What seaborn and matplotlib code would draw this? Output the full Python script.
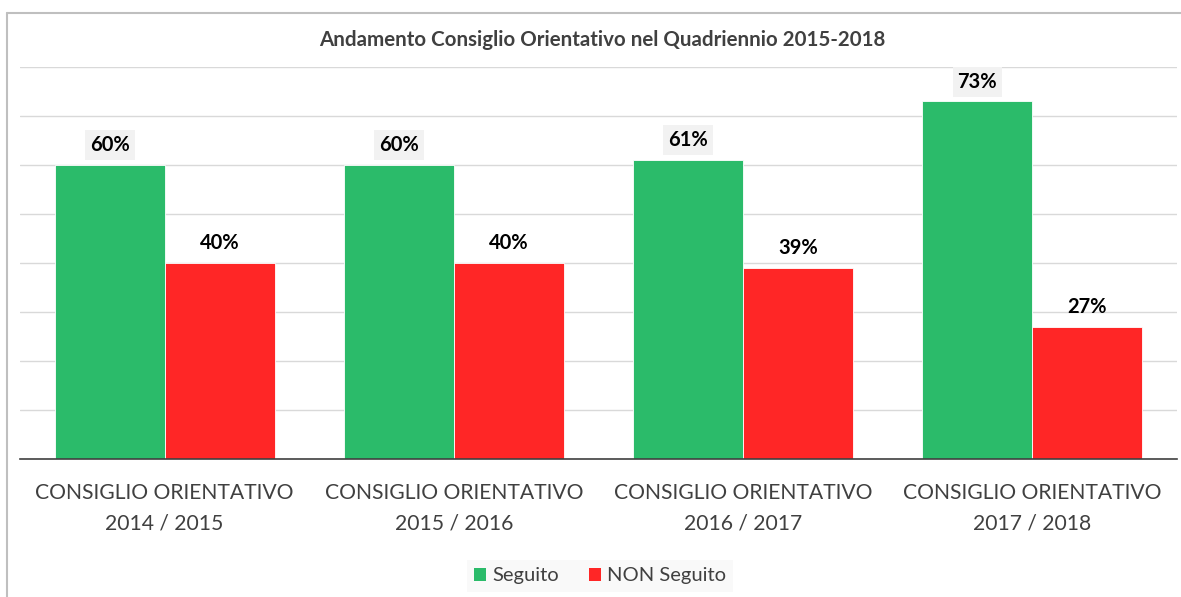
import matplotlib
matplotlib.use("Agg")
import matplotlib.pyplot as plt
import seaborn as sns
import pandas as pd
from matplotlib.lines import Line2D
from matplotlib.patches import Patch

categories = ["CONSIGLIO ORIENTATIVO\n2014 / 2015", "CONSIGLIO ORIENTATIVO\n2015 / 2016",
              "CONSIGLIO ORIENTATIVO\n2016 / 2017", "CONSIGLIO ORIENTATIVO\n2017 / 2018"]
seguito = [60, 60, 61, 73]
non_seguito = [40, 40, 39, 27]
series_names = ["Seguito", "NON Seguito"]
title = "Andamento Consiglio Orientativo nel Quadriennio 2015-2018"

GREEN = "#2BBB6A"
RED = "#FF2626"

sns.set_theme(style="white")
plt.rcParams['font.family'] = ['Lato', 'DejaVu Sans']

df = pd.DataFrame({
    "cat": categories * 2,
    "serie": [series_names[0]] * 4 + [series_names[1]] * 4,
    "val": seguito + non_seguito,
})

fig = plt.figure(figsize=(11.81, 5.97), dpi=100)
ax = fig.add_axes([20/1181, 1-459/597, (1177-20)/1181, (459-67)/597])
sns.barplot(data=df, x="cat", y="val", hue="serie", order=categories, hue_order=series_names,
            palette=[GREEN, RED], width=0.76, saturation=1, ax=ax, legend=False,
            edgecolor="white", linewidth=0.6)

ax.set_ylim(0, 80)
ax.set_xlim(-0.5, 3.5)
ax.set_yticks(range(0, 81, 10))
ax.yaxis.grid(True, color="#D9D9D9", linewidth=1)
ax.set_axisbelow(True)
ax.tick_params(axis='y', left=False, labelleft=False)
ax.tick_params(axis='x', bottom=False, pad=11, labelsize=15.2, labelcolor="#404040")
ax.set_xlabel("")
ax.set_ylabel("")
for s in ["top", "right", "left"]:
    ax.spines[s].set_visible(False)
ax.spines["bottom"].set_color("#404040")
ax.spines["bottom"].set_linewidth(1.2)
for lbl in ax.get_xticklabels():
    lbl.set_linespacing(1.65)

for i, cont in enumerate(ax.containers):
    for bar in cont:
        h = bar.get_height()
        kw = dict(ha="center", va="bottom", fontsize=14.5, fontweight="bold", color="black")
        if i == 0:
            kw["bbox"] = dict(boxstyle="square,pad=0.25", facecolor="#F2F2F2", edgecolor="none")
        ax.annotate(f"{h:.0f}%", (bar.get_x() + bar.get_width()/2, h), xytext=(0, 7),
                    textcoords="offset points", **kw)

fig.text(602/1181, 1-40/597, title, ha="center", va="center", fontsize=14.8, fontweight="bold",
         color="#404040")

handles = [Patch(facecolor=GREEN, edgecolor="none"), Patch(facecolor=RED, edgecolor="none")]
leg = fig.legend(handles, series_names, loc="center", bbox_to_anchor=(600/1181, 1-576/597),
                 ncol=2, frameon=True, fontsize=14.5, handlelength=0.6, handleheight=0.6,
                 handletextpad=0.3, columnspacing=1.5, fancybox=False, borderpad=0.35)
leg.get_frame().set_facecolor("#F8F8F8")
leg.get_frame().set_edgecolor("none")
for t in leg.get_texts():
    t.set_color("#404040")

# spreadsheet frame
fig.add_artist(Line2D([7/1181, 7/1181], [0, 1-13/597], transform=fig.transFigure, color="#BFBFBF", lw=1.5))
fig.add_artist(Line2D([7/1181, 1], [1-13/597, 1-13/597], transform=fig.transFigure, color="#BFBFBF", lw=1.5))

fig.savefig("out.png", dpi=100)
